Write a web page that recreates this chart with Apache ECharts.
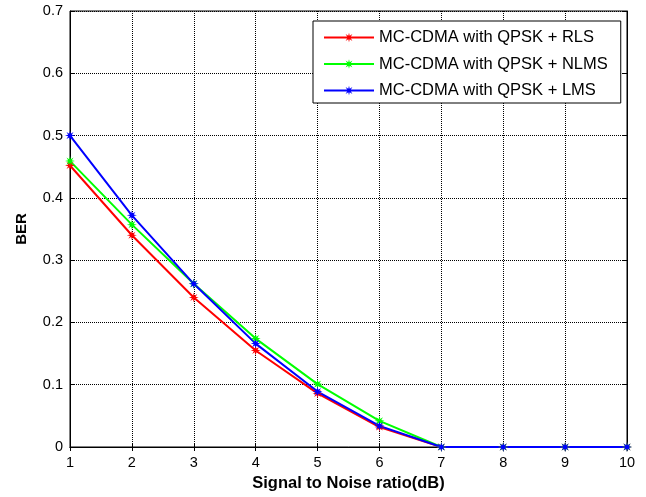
<!DOCTYPE html>
<html>
<head>
<meta charset="utf-8">
<script src="https://cdn.jsdelivr.net/npm/echarts@6/dist/echarts.min.js"></script>
<style>
html,body{margin:0;padding:0;background:#fff;}
#myChart{width:646px;height:497px;}
</style>
</head>
<body>
<div id="myChart"></div>
<script>
// data
let snr=[1,2,3,4,5,6,7,8,9,10];
let berRLS=[0.452,0.340,0.240,0.155,0.086,0.032,0,0,0,0];
let berNLMS=[0.459,0.357,0.262,0.174,0.101,0.042,0,0,0,0];
let berLMS=[0.500,0.372,0.262,0.166,0.089,0.034,0,0,0,0];
let seriesNames=['MC-CDMA with QPSK + RLS','MC-CDMA with QPSK + NLMS','MC-CDMA with QPSK + LMS'];
let yTicks=[0,0.1,0.2,0.3,0.4,0.5,0.6,0.7];

// 8-point star like matlab '*'
let star='path://';
for(let i=0;i<16;i++){
    let a=Math.PI*i/8-Math.PI/2;
    let r=i%2==0?10:4;
    star+=(i==0?'M':'L')+(r*Math.cos(a)).toFixed(2)+','+(r*Math.sin(a)).toFixed(2);
}
star+='Z';

let font='"Liberation Sans", Arial, sans-serif';
function mkSeries(name,data,color){
    return {
        name:name,
        type:'line',
        data:snr.map((x,i)=>[x,data[i]]),
        symbol:star,
        symbolSize:10,
        showSymbol:true,
        lineStyle:{color:color,width:2},
        itemStyle:{color:color},
        animation:false
    };
}
let myChart=echarts.init(document.getElementById('myChart'));
let option={
    backgroundColor:'#fff',
    animation:false,
    grid:{left:70,right:19,top:11,bottom:47,show:true,borderColor:'#000',borderWidth:1,backgroundColor:'#fff'},
    legend:{
        orient:'vertical',
        left:313,
        top:21,
        padding:[8,13,4,10],
        itemWidth:50,
        itemHeight:12,
        itemGap:9.5,
        backgroundColor:'#fff',
        borderColor:'#000',
        borderWidth:1,
        borderRadius:0,
        textStyle:{fontFamily:font,fontSize:16.5,color:'#000'},
        data:seriesNames
    },
    xAxis:[{
        type:'value',
        min:1,max:10,interval:1,
        name:'Signal to Noise ratio(dB)',
        nameLocation:'middle',
        nameGap:28,
        nameTextStyle:{fontFamily:font,fontSize:16.5,fontWeight:'bold',color:'#000'},
        axisLine:{onZero:false,lineStyle:{color:'#000',width:1}},
        axisTick:{inside:true,length:4,lineStyle:{color:'#000'}},
        axisLabel:{fontFamily:font,fontSize:14.5,color:'#000',margin:8},
        splitLine:{show:true,lineStyle:{color:'#000',type:[1,1],width:1}}
    },{
        type:'value',position:'top',min:1,max:10,interval:1,
        axisLine:{show:true,lineStyle:{color:'#000'}},
        axisTick:{inside:true,length:4,lineStyle:{color:'#000'}},
        axisLabel:{show:false},splitLine:{show:false}
    }],
    yAxis:[{
        type:'value',
        min:yTicks[0],max:yTicks[yTicks.length-1],interval:0.1,
        name:'BER',
        nameLocation:'middle',
        nameGap:41,
        nameTextStyle:{fontFamily:font,fontSize:15,fontWeight:'bold',color:'#000'},
        axisLine:{show:true,lineStyle:{color:'#000',width:1}},
        axisTick:{inside:true,length:4,lineStyle:{color:'#000'}},
        axisLabel:{fontFamily:font,fontSize:14.5,color:'#000',margin:7,
            formatter:(v)=>(Math.round(v*10)/10).toString()},
        splitLine:{show:true,lineStyle:{color:'#000',type:[1,1],width:1}}
    },{
        type:'value',position:'right',
        min:yTicks[0],max:yTicks[yTicks.length-1],interval:0.1,
        axisLine:{show:true,lineStyle:{color:'#000'}},
        axisTick:{inside:true,length:4,lineStyle:{color:'#000'}},
        axisLabel:{show:false},splitLine:{show:false}
    }],
    series:[
        mkSeries(seriesNames[0],berRLS,'#ff0000'),
        mkSeries(seriesNames[1],berNLMS,'#00ff00'),
        mkSeries(seriesNames[2],berLMS,'#0000ff')
    ]
};
myChart.setOption(option);
</script>
</body>
</html>
